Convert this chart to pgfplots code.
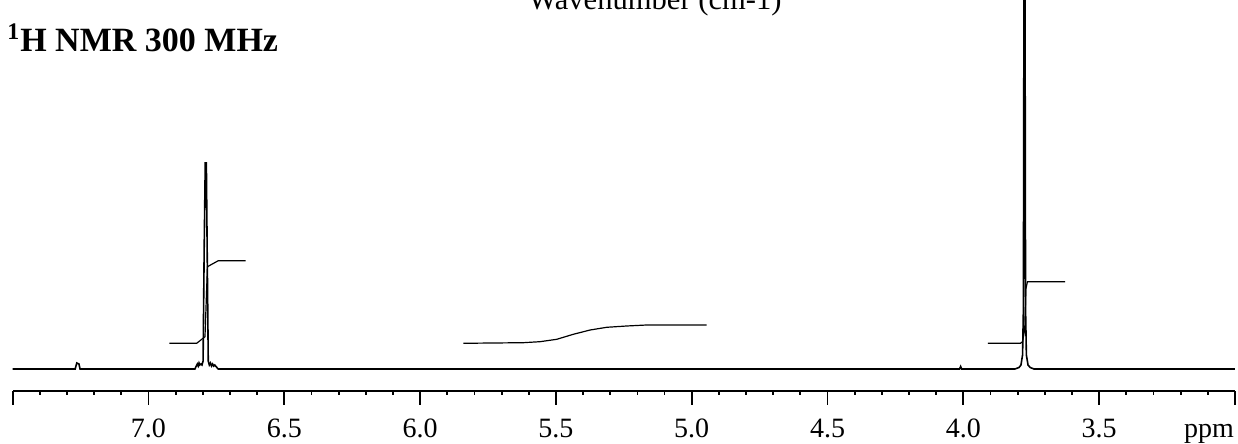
\documentclass[border=0pt]{standalone}
\usepackage{pgfplots}
\pgfplotsset{compat=1.18}
\usepackage{fontspec}
\setmainfont{Liberation Serif}

% heights are in pixels above the spectrum baseline
\begin{document}
\begin{tikzpicture}[x=1pt,y=1pt]
  \useasboundingbox (0,0) rectangle (619,222);
  \begin{axis}[
    at={(6.35pt,26.5pt)}, anchor=south west,
    scale only axis, width=611.15pt, height=195.5pt,
    xmin=3.0, xmax=7.5, ymin=-22, ymax=369,
    x dir=reverse,
    axis x line=bottom, axis y line=none,
    axis line style={line width=0.9pt,-},
    xtick={3,3.5,4,4.5,5,5.5,6,6.5,7,7.5},
    xticklabels={,3.5,4.0,4.5,5.0,5.5,6.0,6.5,7.0,},
    minor x tick num=4,
    tick align=outside,
    major tick length=7pt, minor tick length=2pt,
    every tick/.style={line width=0.9pt,black},
    xticklabel style={font=\fontsize{14}{16}\selectfont, inner sep=0pt,
      text height=10pt, text depth=0pt, anchor=north, yshift=-6pt},
    /pgf/number format/assume math mode=true,
    xlabel={ppm},
    xlabel style={at={(axis description cs:0.9787,0)}, anchor=north,
      inner sep=0pt, text height=10pt, text depth=0pt,
      font=\fontsize{14}{16}\selectfont, yshift=-13pt},
  ]
    % spectrum
    \addplot[black, line width=0.8pt] coordinates {
      (7.50,0) (7.270,0) (7.264,6) (7.256,5) (7.252,0)
      (6.829,0) (6.824,3) (6.820,5) (6.817,3) (6.814,6) (6.811,4)
      (6.807,5) (6.803,4) (6.799,8) (6.795,120) (6.791,206) (6.787,206)
      (6.784,120) (6.780,8) (6.776,4) (6.772,6) (6.768,3) (6.764,5)
      (6.760,3) (6.756,4) (6.750,2) (6.743,0)
      (4.014,0) (4.010,2.5) (4.006,0)
      (3.810,0) (3.795,1.5) (3.788,4) (3.782,14) (3.779,60)
      (3.7765,450) (3.7735,450) (3.771,60) (3.768,14) (3.762,4)
      (3.754,1.5) (3.740,0) (3.00,0)
    };
    % integrals
    \addplot[black, line width=0.6pt] coordinates {
      (6.923,25.7) (6.8225,25.7) (6.792,32.3) (6.783,102.3)
      (6.743,108.3) (6.642,108.3)
    };
    \addplot[black, line width=0.6pt] coordinates {
      (5.841,25.7) (5.620,26.3) (5.559,27.3) (5.497,29.7) (5.436,34.7)
      (5.374,39) (5.313,41.7) (5.239,43) (5.166,44) (4.945,44)
    };
    \addplot[black, line width=0.6pt] coordinates {
      (3.910,25.7) (3.790,25.7) (3.782,27.3) (3.774,40) (3.770,80)
      (3.764,87.3) (3.625,87.3)
    };
  \end{axis}
  \node[anchor=base west, inner sep=0pt,
    font=\fontsize{17}{20}\selectfont\bfseries] at (3.5,196)
    {\textsuperscript{1}H NMR 300 MHz};
  \node[anchor=base, inner sep=0pt, font=\fontsize{15.3}{18}\selectfont]
    at (327.5,217.25) {Wavenumber (cm-1)};
\end{tikzpicture}
\end{document}
